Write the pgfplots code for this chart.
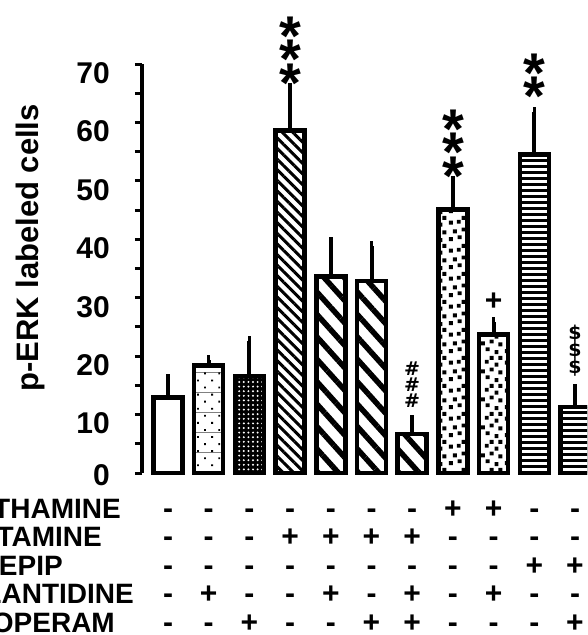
\documentclass[border=0pt]{standalone}
\usepackage{fontspec}
\setmainfont{Liberation Sans}
\newfontfamily\dejavu{DejaVu Sans}
\usepackage{pgfplots}
\pgfplotsset{compat=1.18}
\usetikzlibrary{patterns.meta}

\pgfdeclarepattern{
  name=rsquares, type=uncolored,
  bottom left={\pgfpoint{0pt}{0pt}},
  top right={\pgfpoint{28pt}{28pt}},
  tile size={\pgfpoint{28pt}{28pt}},
  code={
    \pgfpathrectangle{\pgfpoint{1pt}{2pt}}{\pgfpoint{4pt}{4pt}}
    \pgfpathrectangle{\pgfpoint{10pt}{4pt}}{\pgfpoint{4pt}{4pt}}
    \pgfpathrectangle{\pgfpoint{19pt}{1pt}}{\pgfpoint{4pt}{4pt}}
    \pgfpathrectangle{\pgfpoint{23pt}{9pt}}{\pgfpoint{4pt}{4pt}}
    \pgfpathrectangle{\pgfpoint{5pt}{10pt}}{\pgfpoint{4pt}{4pt}}
    \pgfpathrectangle{\pgfpoint{14pt}{12pt}}{\pgfpoint{4pt}{4pt}}
    \pgfpathrectangle{\pgfpoint{1pt}{19pt}}{\pgfpoint{4pt}{4pt}}
    \pgfpathrectangle{\pgfpoint{9pt}{20pt}}{\pgfpoint{4pt}{4pt}}
    \pgfpathrectangle{\pgfpoint{19pt}{17pt}}{\pgfpoint{4pt}{4pt}}
    \pgfpathrectangle{\pgfpoint{23pt}{24pt}}{\pgfpoint{4pt}{4pt}}
    \pgfpathrectangle{\pgfpoint{14pt}{24pt}}{\pgfpoint{4pt}{4pt}}
    \pgfusepath{fill}
  }
}

\pgfplotsset{
  mybar/.style={ybar, bar width=29pt, bar shift=0pt, draw=black, line width=4.5pt,
    error bars/y dir=plus, error bars/y explicit,
    error bars/error bar style={line width=4pt, black},
    error bars/error mark options={line width=3.5pt, mark size=4.5pt, black}},
}

\newcommand{\starfont}{\bfseries\fontsize{56}{23.5}\selectfont\lineskiplimit=-200pt\lineskip=0pt}
\newcommand{\tabfont}{\bfseries\fontsize{28}{28}\selectfont}
\newcommand{\symfont}{\bfseries\fontsize{30}{30}\selectfont}
\newcommand{\hashfont}{\dejavu\bfseries\fontsize{19}{16}\selectfont\lineskiplimit=-200pt\lineskip=0pt}
\newcommand{\dollarfont}{\dejavu\bfseries\fontsize{19}{17}\selectfont\lineskiplimit=-200pt\lineskip=0pt}

\begin{document}
\begin{tikzpicture}
\useasboundingbox (-142pt,-162pt) rectangle (445pt,473pt);
\clip (-142pt,-162pt) rectangle (445pt,473pt);
\begin{axis}[
  scale only axis, width=458pt, height=409pt,
  xmin=-0.639, xmax=10.614, ymin=0, ymax=70,
  axis y line*=left, axis x line=none,
  y axis line style={line width=4pt},
  xtick=\empty,
  ytick={10,20,...,70}, minor ytick={5,15,...,65},
  extra y ticks={0},
  extra y tick style={yticklabel style={yshift=7pt}},
  tick align=outside, major tick length=7pt, minor tick length=7pt,
  tick style={line width=3pt, black},
  /pgf/number format/assume math mode=true,
  yticklabel style={font=\bfseries\fontsize{30}{30}\selectfont, anchor=east, inner sep=0pt, xshift=-25pt, yshift=-9pt},
  ylabel={p-ERK labeled cells},
  ylabel style={font=\bfseries\fontsize{31}{31}\selectfont, at={(axis description cs:-0.2445,0.55)}, anchor=center},
  clip=false,
]
% control
\addplot[mybar, fill=white] coordinates {(0,12.9) +- (0,3.2)};
% light dots
\addplot[mybar, fill=white, postaction={pattern={Lines[angle=0, distance=20pt, line width=0.8pt, yshift=3pt]}, pattern color=gray}, postaction={pattern={Dots[radius=1.3pt, distance=10pt, angle=45]}, pattern color=black}] coordinates {(1,18.4) +- (0,1.0)};
% dense dots
\addplot[mybar, fill=black, postaction={pattern={Dots[radius=1.1pt, distance=4.6pt]}, pattern color=white}] coordinates {(2,16.6) +- (0,6.0)};
% fine stripes
\addplot[mybar, fill=white, postaction={pattern={Lines[angle=-45, distance=7.5pt, line width=3pt]}, pattern color=black}] coordinates {(3,58.6) +- (0,7.3)};
% wide stripes
\addplot[mybar, fill=white, postaction={pattern={Lines[angle=-48, distance=15pt, line width=5.5pt]}, pattern color=black}] coordinates {(4,33.6) +- (0,6.0) (5,32.9) +- (0,6.0) (6,6.7) +- (0,2.4)};
% random squares
\addplot[mybar, fill=white, postaction={pattern=rsquares, pattern color=black}] coordinates {(7,45.1) +- (0,4.9) (8,23.7) +- (0,2.2)};
% horizontal lines
\addplot[mybar, fill=white, postaction={pattern={Lines[angle=0, distance=6pt, line width=3pt]}, pattern color=black}] coordinates {(9,54.5) +- (0,7.3) (10,11.3) +- (0,3.1)};

% significance marks
\node[anchor=north, inner sep=0pt, align=center, font=\starfont] at (axis cs:3,78.1) {*\\*\\*};
\node[anchor=north, inner sep=0pt, align=center, font=\starfont] at (axis cs:7,62.2) {*\\*\\*};
\node[anchor=north, inner sep=0pt, align=center, font=\starfont] at (axis cs:9,71.8) {*\\*};
\node[anchor=center, inner sep=0pt, font=\bfseries\fontsize{30}{30}\selectfont] at (axis cs:8,29.3) {+};
\node[anchor=center, inner sep=0pt, align=center, font=\hashfont] at (axis cs:6,15.2) {\#\\\#\\\#};
\node[anchor=center, inner sep=0pt, align=center, font=\dollarfont] at (axis cs:10,20.9) {\$\\\$\\\$};
\end{axis}

% treatment table
\begin{scope}[every node/.style={inner sep=0pt}]
\node[anchor=base east, font=\tabfont] at (-21pt,-45pt) {AMTHAMINE};
\node[anchor=base east, font=\tabfont] at (-40pt,-73.5pt) {HISTAMINE};
\node[anchor=base east, font=\tabfont] at (-79pt,-102pt) {IMMEPIP};
\node[anchor=base east, font=\tabfont] at (-8pt,-130.5pt) {ZOLANTIDINE};
\node[anchor=base east, font=\tabfont] at (-27pt,-159pt) {THIOPERAM};
\foreach \s [count=\i from 0] in {-,-,-,-,-,-,-,+,+,-,-}
  \node[anchor=base, font=\symfont] at ({26pt+40.7pt*\i},-45pt) {\s};
\foreach \s [count=\i from 0] in {-,-,-,+,+,+,+,-,-,-,-}
  \node[anchor=base, font=\symfont] at ({26pt+40.7pt*\i},-73.5pt) {\s};
\foreach \s [count=\i from 0] in {-,-,-,-,-,-,-,-,-,+,+}
  \node[anchor=base, font=\symfont] at ({26pt+40.7pt*\i},-102pt) {\s};
\foreach \s [count=\i from 0] in {-,+,-,-,+,-,+,-,+,-,-}
  \node[anchor=base, font=\symfont] at ({26pt+40.7pt*\i},-130.5pt) {\s};
\foreach \s [count=\i from 0] in {-,-,+,-,-,+,+,-,-,-,+}
  \node[anchor=base, font=\symfont] at ({26pt+40.7pt*\i},-159pt) {\s};
\end{scope}
\end{tikzpicture}
\end{document}
